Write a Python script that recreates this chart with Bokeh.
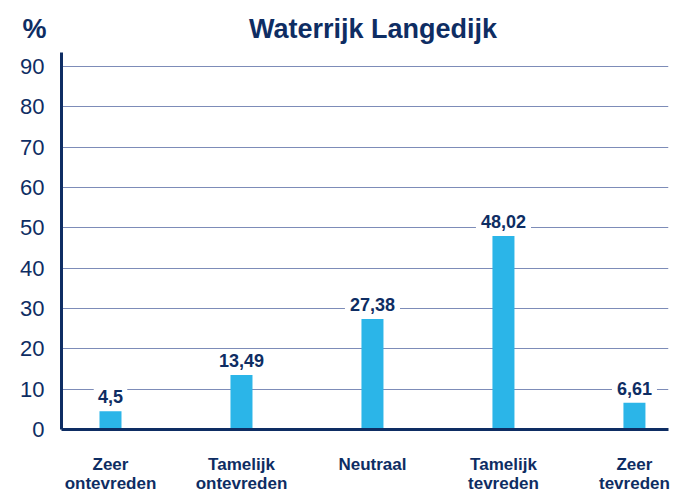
from bokeh.plotting import figure
from bokeh.models import ColumnDataSource, LabelSet, FixedTicker, Range1d
from bokeh.core.properties import value
from bokeh.embed import file_html
from bokeh.resources import INLINE

title_text = "Waterrijk Langedijk"
unit_text = "%"
categories = ["Zeer\nontevreden", "Tamelijk\nontevreden", "Neutraal", "Tamelijk\ntevreden", "Zeer\ntevreden"]
values = [4.5, 13.49, 27.38, 48.02, 6.61]
value_labels = ["4,5", "13,49", "27,38", "48,02", "6,61"]
y_ticks = [0, 10, 20, 30, 40, 50, 60, 70, 80, 90]

NAVY = "#0e2d63"
BAR = "#2bb5e8"
GRID = "#7d8cb8"
FONT = "Liberation Sans"

xs = list(range(len(categories)))
src = ColumnDataSource(dict(x=xs, top=values, lab=value_labels))

p = figure(frame_width=607, frame_height=377, output_backend="svg", toolbar_location=None,
           x_range=Range1d(-0.374, 4.26), y_range=Range1d(0, 93.5),
           min_border_left=61, min_border_right=12, min_border_top=52, min_border_bottom=4)
p.outline_line_color = None
p.background_fill_color = "white"

# unit "%" and title share one header line (non-breaking spaces keep the gap)
p.title.text = unit_text + "\u00a0" * 27 + title_text
p.title.align = "left"
p.title.offset = -39
p.title.standoff = 18
p.title.text_font = FONT
p.title.text_font_style = "bold"
p.title.text_font_size = "27px"
p.title.text_color = NAVY

p.vbar(x="x", top="top", width=0.168, bottom=0, source=src, fill_color=BAR, line_color=None)

labels = LabelSet(x="x", y="top", text="lab", source=src, y_offset=8,
                  text_align="center", text_baseline="alphabetic",
                  text_font=value(FONT), text_font_style="bold", text_font_size="18px",
                  text_color=NAVY, background_fill_color="white",
                  border_line_color="white", border_line_width=10)
p.add_layout(labels)

p.xaxis.ticker = FixedTicker(ticks=xs)
p.xaxis.major_label_overrides = {i: c for i, c in enumerate(categories)}
p.xaxis.major_label_text_font = FONT
p.xaxis.major_label_text_font_style = "bold"
p.xaxis.major_label_text_font_size = "17px"
p.xaxis.major_label_text_color = NAVY
p.xaxis.major_label_standoff = 19
p.xaxis.major_label_text_line_height = 1.0
p.xaxis.axis_line_color = NAVY
p.xaxis.axis_line_width = 3
p.xaxis.major_tick_line_color = None
p.xaxis.minor_tick_line_color = None

p.yaxis.ticker = FixedTicker(ticks=y_ticks)
p.yaxis.major_label_text_font = FONT
p.yaxis.major_label_text_font_size = "22px"
p.yaxis.major_label_text_color = NAVY
p.yaxis.major_label_standoff = 11
p.yaxis.axis_line_color = NAVY
p.yaxis.axis_line_width = 3
p.yaxis.major_tick_line_color = None
p.yaxis.minor_tick_line_color = None

p.xgrid.grid_line_color = None
p.ygrid.ticker = FixedTicker(ticks=y_ticks[1:])
p.ygrid.grid_line_color = GRID
p.ygrid.grid_line_width = 1.2

open("out.html", "w").write(file_html(p, INLINE))
